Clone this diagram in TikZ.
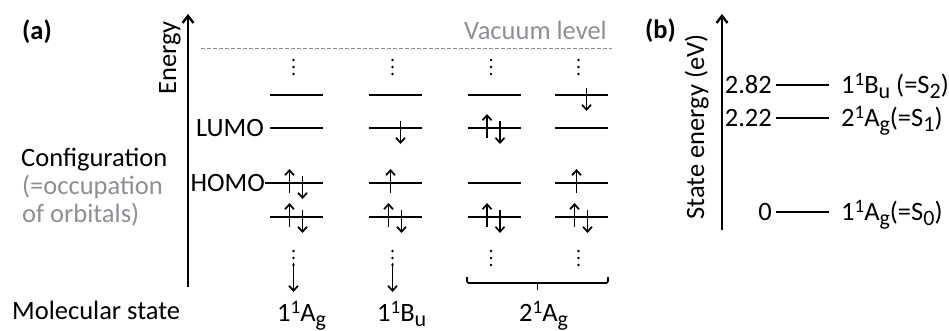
\documentclass[tikz,border=0pt]{standalone}
\usepackage{fontspec}
\setmainfont{Carlito}
\usetikzlibrary{arrows.meta,calc,positioning}
\definecolor{vacgray}{HTML}{8C9094}
\newcommand{\supx}[1]{\raisebox{8pt}{\fontsize{19}{19}\selectfont #1}}
\newcommand{\subx}[1]{\raisebox{-5pt}{\fontsize{22}{22}\selectfont #1}}
\newcommand{\stlab}[3]{#1\supx{1}#2\subx{#3}}
\newcommand{\upspin}[2]{\draw[spin] (#1,#2+10) -- (#1,#2-14);}
\newcommand{\downspin}[2]{\draw[spin] (#1,#2-7) -- (#1,#2+16);}

\begin{document}
\begin{tikzpicture}[x=1pt,y=-1pt,
  every node/.style={font=\fontsize{26.5}{30}\selectfont,inner sep=0pt},
  level/.style={line width=2.2pt},
  spin/.style={line width=1.7pt,-{Straight Barb[length=5pt,width=9pt]}},
  axis/.style={line width=2.4pt,-{Straight Barb[length=7pt,width=11pt]}}]
  \useasboundingbox (0,0) rectangle (949,330);
  % panel (a)
  \node[anchor=base west,font=\fontsize{26.5}{30}\selectfont\bfseries] (a) at (22,39) {(a)};
  \draw[axis] (188,287) -- (188,14);
  \node[rotate=90,anchor=base] (energy) at (176,58) {Energy};
  \draw[vacgray,line width=1pt,dash pattern=on 4pt off 2pt] (201,48) -- (612,48);
  \node[anchor=base east,text=vacgray] (vac) at (607,39) {Vacuum level};
  \foreach \cx in {296.5,395.5,494,581.5} {
    \foreach \ly in {95,128,183,217}
      \draw[level] (\cx-26.5,\ly) -- (\cx+26.5,\ly);
    \foreach \dy in {60,67,74,251,258,265}
      \fill (\cx-3,\dy) circle (1.3pt);
  }
  \node[anchor=east] (lumo) at (264,128) {LUMO};
  \node[anchor=east] (homo) at (265,183) {HOMO};
  \draw[level] (homo.east) -- (271,183);
  % occupations
  \upspin{289.5}{183} \downspin{302.5}{183}
  \upspin{289.5}{217} \downspin{302.5}{217}
  \downspin{400.5}{128} \upspin{390.5}{183}
  \upspin{388.5}{217} \downspin{401.5}{217}
  \upspin{487}{128} \downspin{500}{128}
  \upspin{487}{217} \downspin{500}{217}
  \downspin{586.5}{95} \upspin{576.5}{183}
  \upspin{574.5}{217} \downspin{587.5}{217}
  % states
  \node[anchor=base west] (cfg) at (21,166) {Configuration};
  \node[anchor=base west,text=vacgray] (occ) at (22,194) {(=occupation};
  \node[anchor=base west,text=vacgray] (orb) at (22,222) {of orbitals)};
  \node[anchor=base west] (mol) at (12,319) {Molecular state};
  \node[anchor=base west] (s1) at (277,321) {\stlab{1}{A}{g}};
  \node[anchor=base west] (s2) at (377,321) {\stlab{1}{B}{u}};
  \node[anchor=base west] (s3) at (519,321) {\stlab{2}{A}{g}};
  \coordinate (d1) at (293.5,263);
  \coordinate (d2) at (392.5,263);
  \draw[spin] (d1) -- (293.5,292);
  \draw[spin] (d2) -- (392.5,292);
  \draw[line width=1.6pt,rounded corners=1.5pt] (467,277) -- (467,283) -- (608,283) -- (608,277);
  \draw[line width=1.6pt] (537.5,283) -- (537.5,290);
  % panel (b)
  \node[anchor=base west,font=\fontsize{26.5}{30}\selectfont\bfseries] (b) at (645,38) {(b)};
  \draw[axis] (722,230) -- (722,14);
  \node[rotate=90,anchor=base] (senergy) at (704,127) {State energy (eV)};
  \foreach \ly/\val/\lab in {85/2.82/{\stlab{1}{B}{u} (=S\subx{2})},
      118/2.22/{\stlab{2}{A}{g}(=S\subx{1})},
      212/0/{\stlab{1}{A}{g}(=S\subx{0})}} {
    \draw[level] (776,\ly) -- (829,\ly);
    \node[anchor=base east] at (772,\ly+8) {\val};
    \node[anchor=base west] at (841,\ly+8) {\lab};
  }
\end{tikzpicture}
\end{document}
